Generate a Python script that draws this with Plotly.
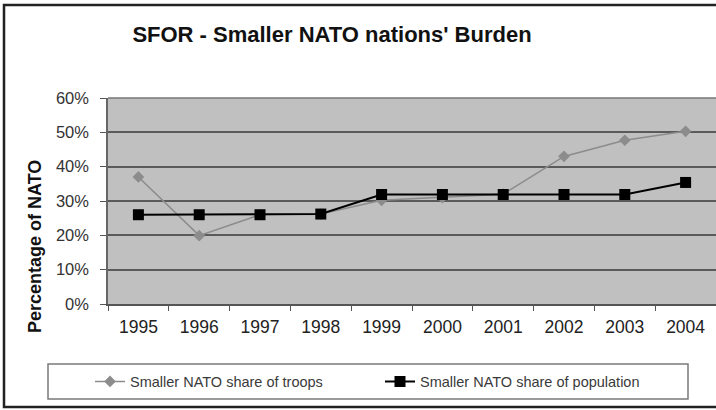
import plotly.graph_objects as go

years = ["1995", "1996", "1997", "1998", "1999", "2000", "2001", "2002", "2003", "2004"]
troops = [0.37, 0.199, 0.26, 0.262, 0.302, 0.31, 0.32, 0.43, 0.477, 0.503]
population = [0.26, 0.26, 0.26, 0.262, 0.319, 0.319, 0.319, 0.319, 0.319, 0.354]
y_ticks = [0, 0.1, 0.2, 0.3, 0.4, 0.5, 0.6]

W, H = 716, 410
L, R, T, B = 108, 0, 98, 106
pw, ph = W - L - R, H - T - B

def px(x):
    return (x - L) / pw

def py(y):
    return (H - B - y) / ph

fig = go.Figure()
fig.add_trace(go.Scatter(
    x=years, y=troops, mode="lines+markers", name="Smaller NATO share of troops",
    line=dict(color="#8c8c8c", width=1.6),
    marker=dict(symbol="diamond", size=9, color="#8c8c8c"),
))
fig.add_trace(go.Scatter(
    x=years, y=population, mode="lines+markers", name="Smaller NATO share of population",
    line=dict(color="#000000", width=2),
    marker=dict(symbol="square", size=11, color="#000000"),
))

fig.update_layout(
    width=W, height=H,
    margin=dict(l=L, r=R, t=T, b=B, pad=0),
    paper_bgcolor="white",
    plot_bgcolor="#c0c0c0",
    font=dict(family="Liberation Sans, Arial, sans-serif", color="#333333"),
    title=dict(text="<b>SFOR - Smaller NATO nations' Burden</b>",
               font=dict(size=22, color="#111111"),
               x=332 / W, xanchor="center", xref="container",
               y=1 - 34 / H, yanchor="middle", yref="container"),
    showlegend=True,
    legend=dict(orientation="h", x=px(90), y=py(381.5), xanchor="left", yanchor="middle",
                bgcolor="rgba(0,0,0,0)", borderwidth=0,
                font=dict(size=14.5, color="#3a3a3a"),
                entrywidth=245, itemwidth=30, traceorder="normal"),
    xaxis=dict(type="category", range=[-0.5, 9.5], showgrid=False,
               tickson="boundaries", ticks="outside", ticklen=5, tickcolor="#555555",
               showline=True, linecolor="#555555", linewidth=1.5,
               tickfont=dict(size=17.5, color="#222222"), ticklabelstandoff=6,
               zeroline=False),
    yaxis=dict(range=[0, 0.6], tickvals=y_ticks, tickformat=".0%",
               showgrid=True, gridcolor="#5a5a5a", gridwidth=1.5,
               ticks="outside", ticklen=6, tickcolor="#555555",
               showline=True, linecolor="#666666", linewidth=1.5,
               tickfont=dict(size=16.5, color="#333333"), ticklabelstandoff=8,
               zeroline=False),
    annotations=[dict(text="<b>Percentage of NATO</b>", textangle=-90,
                      x=px(35), y=py(247), xref="paper", yref="paper",
                      showarrow=False, font=dict(size=18, color="#111111"),
                      xanchor="center", yanchor="middle")],
    shapes=[
        dict(type="rect", xref="paper", yref="paper",
             x0=px(48), x1=px(688), y0=py(399), y1=py(364),
             line=dict(color="#7a7a7a", width=1.5), fillcolor="rgba(0,0,0,0)", layer="below"),
        dict(type="rect", xref="paper", yref="paper",
             x0=px(4), x1=px(740), y0=py(407), y1=py(5),
             line=dict(color="#222222", width=2.5), fillcolor="rgba(0,0,0,0)", layer="below"),
        dict(type="line", xref="paper", yref="paper",
             x0=0, x1=1, y0=1, y1=1, line=dict(color="#777777", width=1.5)),
    ],
)

fig.write_html("out.html", config={"displayModeBar": False},
               post_script="document.body.style.margin='0';document.body.style.overflow='hidden';")
